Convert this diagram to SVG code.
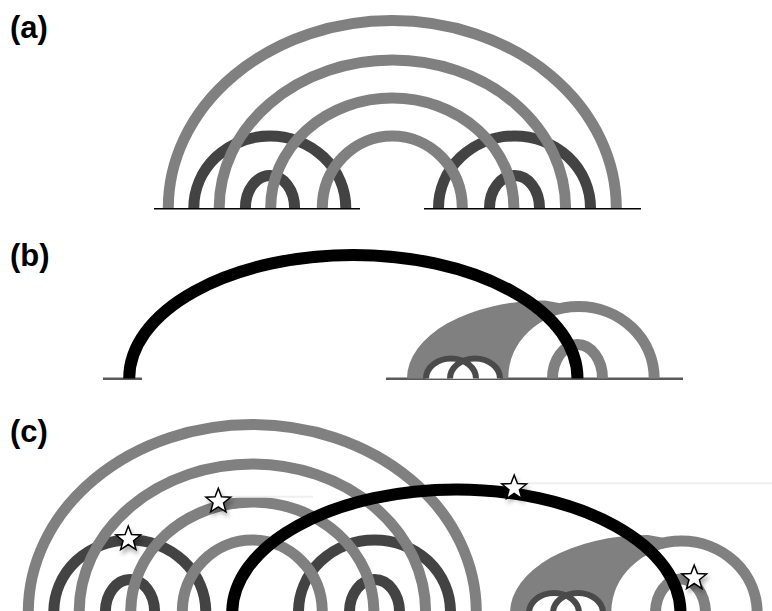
<svg xmlns="http://www.w3.org/2000/svg" width="772" height="611" viewBox="0 0 772 611">
<style>
.g{fill:none;stroke:#808080;stroke-width:11}
.d{fill:none;stroke:#434343;stroke-width:11}
.k{fill:none;stroke:#000;stroke-width:12}
.lp{fill:none;stroke:#4a4a4a;stroke-width:6}
.lpf{fill:#fff;stroke:none}
.band{fill:#808080;stroke:none}
.baseA{stroke:#000;stroke-width:1.6}
.baseB{stroke:#5a5a5a;stroke-width:2.4}
.lbl{font-family:"Liberation Sans",Arial,sans-serif;font-weight:bold;font-size:31px;fill:#000}
.st{fill:#fff;stroke:#000;stroke-width:1.5;stroke-linejoin:miter}
.faint{stroke:#efefef;stroke-width:2}
</style>
<defs>
<polygon id="star" points="0,-13 3.23,-4.45 12.36,-4.02 5.23,1.7 7.64,10.52 0,5.5 -7.64,10.52 -5.23,1.7 -12.36,-4.02 -3.23,-4.45"/>
<filter id="sh" x="-60%" y="-60%" width="220%" height="220%">
<feDropShadow dx="2" dy="4" stdDeviation="2" flood-color="#000" flood-opacity="0.3"/>
</filter>
</defs>
<rect width="772" height="611" fill="#fff"/>

<g id="labels">
<text class="lbl" x="10" y="38">(a)</text>
<text class="lbl" x="10" y="266">(b)</text>
<text class="lbl" x="10" y="442">(c)</text>
</g>

<!-- Panel (a) -->
<g id="panel-a">
<g id="a-baselines">
<line class="baseA" x1="154" y1="208.8" x2="360" y2="208.8"/>
<line class="baseA" x1="424" y1="208.8" x2="641" y2="208.8"/>
</g>
<g id="a-connectors">
<path class="d" d="M193.8,208 A76,72 0 0 1 345.8,208"/>
<path class="d" d="M245.4,208 A24.6,32.5 0 0 1 294.6,208"/>
<path class="d" d="M438.5,208 A76,72 0 0 1 590.5,208"/>
<path class="d" d="M489.5,208 A25,32.5 0 0 1 539.5,208"/>
<path class="g" d="M168.3,208 A224,187.5 0 0 1 616.3,208"/>
<path class="g" d="M219.2,208 A173.2,148 0 0 1 565.6,208"/>
<path class="g" d="M270.7,208 A121.6,110 0 0 1 513.9,208"/>
<path class="g" d="M322.3,208 A70,72 0 0 1 462.3,208"/>
</g>
</g>

<!-- Panel (b) -->
<g id="panel-b">
<g id="b-baselines">
<line class="baseB" x1="103" y1="378.8" x2="142" y2="378.8"/>
<line class="baseB" x1="386" y1="378.8" x2="683" y2="378.8"/>
</g>
<g id="b-connectors">
<path class="band" d="M407,378.5 A138,78 0 0 1 545,300.5 L578.5,306.5 A75.7,72 0 0 0 502.8,378.5 Z"/>
<path class="g" d="M502.8,378.5 A75.7,72 0 0 1 654.2,378.5"/>
<path class="g" d="M552.5,378.5 A25,34 0 0 1 602.5,378.5"/>
<path class="lpf" d="M426,378.5 A25,20 0 0 1 476,378.5 Z"/>
<path class="lpf" d="M450,378.5 A25,20 0 0 1 500,378.5 Z"/>
<path class="lp" d="M426,378.5 A25,20 0 0 1 476,378.5"/>
<path class="lp" d="M450,378.5 A25,20 0 0 1 500,378.5"/>
<path class="k" d="M129.2,378.5 A224.15,123.5 0 0 1 577.5,378.5"/>
</g>
</g>

<!-- Panel (c) -->
<g id="panel-c">
<g id="c-left-connectors" transform="translate(-140,404)">
<path class="d" d="M193.8,208 A76,72 0 0 1 345.8,208"/>
<path class="d" d="M245.4,208 A24.6,32.5 0 0 1 294.6,208"/>
<path class="d" d="M438.5,208 A76,72 0 0 1 590.5,208"/>
<path class="d" d="M489.5,208 A25,32.5 0 0 1 539.5,208"/>
<path class="g" d="M168.3,208 A224,187.5 0 0 1 616.3,208"/>
<path class="g" d="M219.2,208 A173.2,148 0 0 1 565.6,208"/>
<path class="g" d="M270.7,208 A121.6,110 0 0 1 513.9,208"/>
<path class="g" d="M322.3,208 A70,72 0 0 1 462.3,208"/>
</g>
<g id="c-right-connectors" transform="translate(103,234.5)">
<path class="band" d="M407,378.5 A138,78 0 0 1 545,300.5 L578.5,306.5 A75.7,72 0 0 0 502.8,378.5 Z"/>
<path class="g" d="M502.8,378.5 A75.7,72 0 0 1 654.2,378.5"/>
<path class="g" d="M552.5,378.5 A25,34 0 0 1 602.5,378.5"/>
<path class="lpf" d="M426,378.5 A25,20 0 0 1 476,378.5 Z"/>
<path class="lpf" d="M450,378.5 A25,20 0 0 1 500,378.5 Z"/>
<path class="lp" d="M426,378.5 A25,20 0 0 1 476,378.5"/>
<path class="lp" d="M450,378.5 A25,20 0 0 1 500,378.5"/>
<path class="k" d="M129.2,378.5 A224.15,123.5 0 0 1 577.5,378.5"/>
</g>
<g id="c-faint">
<line class="faint" x1="527" y1="483.3" x2="772" y2="483.3"/>
<line class="faint" x1="231" y1="496.7" x2="313" y2="496.7"/>
</g>
<g id="stars" filter="url(#sh)">
<use href="#star" class="st" x="128.3" y="539"/>
<use href="#star" class="st" x="218.3" y="501.3"/>
<use href="#star" class="st" x="514.2" y="488"/>
<use href="#star" class="st" x="694.2" y="578"/>
</g>
</g>
</svg>
